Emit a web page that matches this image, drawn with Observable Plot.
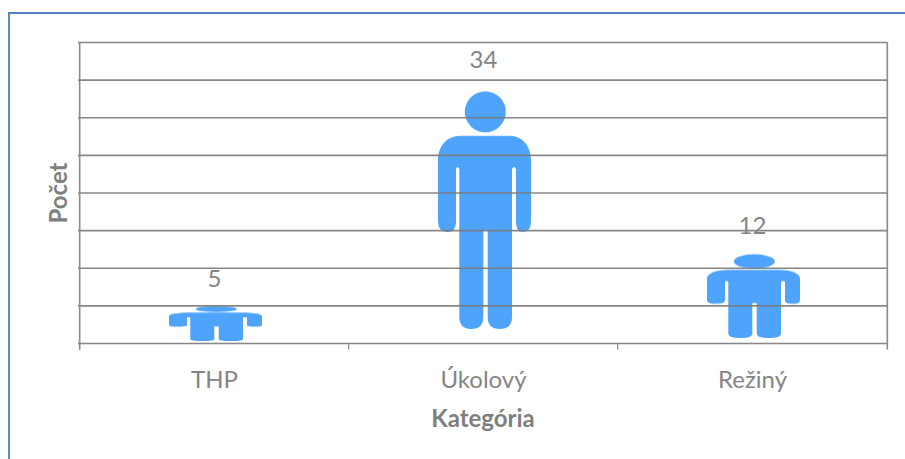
<!DOCTYPE html>
<html lang="sk">
<head>
<meta charset="utf-8">
<script src="https://cdn.jsdelivr.net/npm/d3@7"></script>
<script src="https://cdn.jsdelivr.net/npm/@observablehq/plot@0.6"></script>
<style>
  html, body { margin: 0; padding: 0; background: #fff; overflow: hidden; }
  #wrap { position: relative; width: 905px; height: 459px; }
  #wrap::before { content: ""; position: absolute; left: 8px; top: 12px; right: 0; bottom: 0;
    border-left: 2px solid #5b8cc6; border-top: 2px solid #4f81bd; }
  #wrap svg { position: absolute; left: 0; top: 0; }
</style>
</head>
<body>
<div id="wrap"></div>
<script>
const categories = ["THP", "Úkolový", "Režiný"];
const counts = [5, 34, 12];
const gridValues = [0, 5, 10, 15, 20, 25, 30, 35, 40];
const xTitle = "Kategória";
const yTitle = "Počet";

const rows = categories.map((c, i) => ({category: c, count: counts[i]}));
const halfStep = (887 - 78) / categories.length / 2;
const ink = "#858585";
const inkBold = "#7f7f7f";

// Person glyph stretched to each bar's box
const personDefs = () => {
  const svgNS = "http://www.w3.org/2000/svg";
  const defs = document.createElementNS(svgNS, "defs");
  defs.innerHTML = `
    <pattern id="person" patternUnits="objectBoundingBox" patternContentUnits="objectBoundingBox" width="1" height="1">
      <g transform="scale(0.01 0.00390625)" fill="#4ea3fb">
        <ellipse cx="52.3" cy="24.7" rx="20.5" ry="20.5"/>
        <path d="M27 48.7H77C90 48.7 98 60 98 73V134Q98 145 90 145Q83 145 83 135V82Q81 78 79 82V230Q79 242 66.8 242Q54.7 242 54.7 230V143H50.3V230Q50.3 242 38.3 242Q26.3 242 26.3 230V82Q24.6 78 23 82V135Q23 145 14 145Q5 145 5 134V73C5 60 13 48.7 27 48.7Z"/>
      </g>
    </pattern>`;
  return defs;
};

const chart = Plot.plot({
  width: 905,
  height: 459,
  marginLeft: 78,
  marginRight: 18,
  marginTop: 42,
  marginBottom: 116,
  style: {background: "transparent", color: ink, fontFamily: "Lato, 'Open Sans', sans-serif", fontSize: "20px"},
  x: {domain: categories, paddingInner: 0.63, paddingOuter: 0.315, align: 0.5},
  y: {domain: [0, 40]},
  marks: [
    personDefs,
    Plot.barY(rows, {x: "category", y: "count", fill: "url(#person)"}),
    Plot.ruleY(gridValues, {stroke: "#7a7a7a", strokeWidth: 1.6, strokeOpacity: 0.9}),
    Plot.ruleX([categories[0]], {dx: -halfStep, y1: -0.9, y2: 40, stroke: "#8a8a8a", strokeWidth: 1.6}),
    Plot.ruleX([categories[2]], {dx: halfStep, y1: -0.9, y2: 40, stroke: "#8a8a8a", strokeWidth: 1.6}),
    Plot.ruleX(categories.slice(1), {dx: -halfStep, y1: -0.9, y2: 0, stroke: "#8a8a8a", strokeWidth: 1.2}),
    Plot.text(rows, {x: "category", y: "count", text: d => String(d.count), dy: -27, fill: ink, fontSize: 24}),
    Plot.axisX({label: null, tickSize: 0, tickPadding: 27, fontSize: 24, fill: ink}),
    Plot.axisY({ticks: [], label: null}),
    Plot.text([xTitle], {frameAnchor: "bottom", dy: 83, fontWeight: 700, fontSize: 24, fill: inkBold}),
    Plot.text([yTitle], {frameAnchor: "left", textAnchor: "middle", dx: -19, rotate: -90, fontWeight: 700, fontSize: 24, fill: inkBold})
  ]
});
document.getElementById("wrap").appendChild(chart);
</script>
</body>
</html>
